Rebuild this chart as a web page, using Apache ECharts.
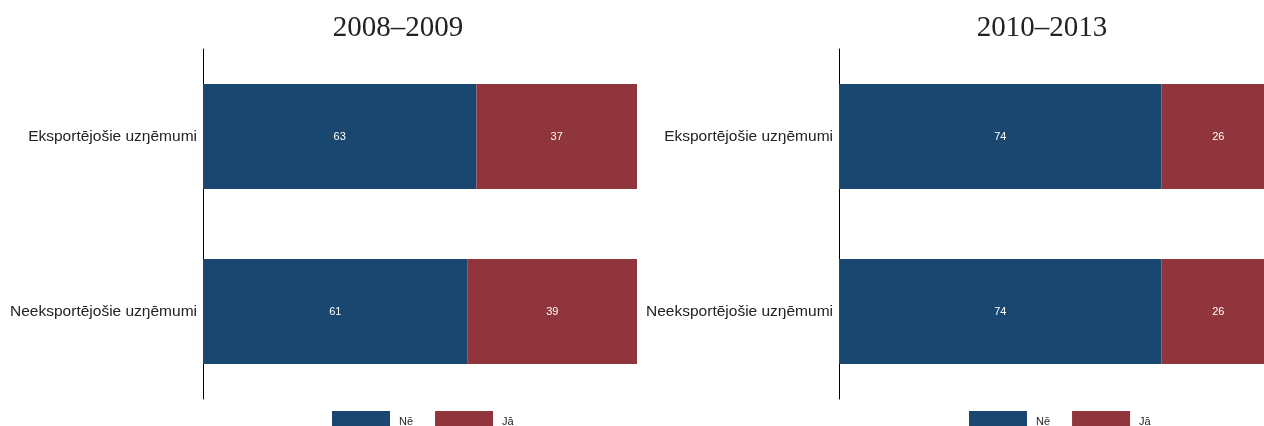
<!DOCTYPE html>
<html>
<head>
<meta charset="utf-8">
<script src="https://cdn.jsdelivr.net/npm/echarts@6/dist/echarts.min.js"></script>
<style>html,body{margin:0;padding:0;background:#fff;overflow:hidden}#c{width:1276px;height:426px}</style>
</head>
<body>
<div id="c"></div>
<script>
const categories = ['Eksportējošie uzŋēmumi', 'Neeksportējošie uzŋēmumi'];
const panelTitles = ['2008–2009', '2010–2013'];
const seriesNames = ['Nē', 'Jā'];
const left_ne = [63, 61];
const left_ja = [37, 39];
const right_ne = [74, 74];
const right_ja = [26, 26];

const NAVY = '#1a476f', MAROON = '#90353b';
const chart = echarts.init(document.getElementById('c'));
const labelStyle = {show: true, position: 'inside', color: '#fff', fontSize: 11, fontFamily: 'Liberation Sans, Arial'};
function bar(name, data, idx, color) {
  return {type: 'bar', name: name, stack: 's' + idx, data: data, xAxisIndex: idx, yAxisIndex: idx,
    barCategoryGap: '40%', itemStyle: {color: color}, label: labelStyle, emphasis: {disabled: true}, silent: true};
}
function yAx(idx) {
  return {type: 'category', gridIndex: idx, data: categories, inverse: true,
    axisLine: {show: true, lineStyle: {color: '#000', width: 1}}, axisTick: {show: false},
    axisLabel: {color: '#222', fontSize: 15.5, fontFamily: 'Liberation Sans, Arial', margin: 6}};
}
function xAx(idx) {
  return {type: 'value', gridIndex: idx, min: 0, max: 100, show: false, splitLine: {show: false}};
}
const legendCommon = {itemWidth: 58, itemHeight: 22, itemGap: 22, icon: 'rect', top: 406,
  textStyle: {fontSize: 11, color: '#222', fontFamily: 'Liberation Sans, Arial', padding: [0, 0, 0, 4]},
  data: seriesNames, selectedMode: false};
chart.setOption({
  animation: false,
  title: [
    {text: panelTitles[0], left: 393, top: 9, textAlign: 'center',
      textStyle: {fontFamily: 'Liberation Serif, Times New Roman', fontSize: 29, fontWeight: 'normal', color: '#222'}},
    {text: panelTitles[1], left: 1037, top: 9, textAlign: 'center',
      textStyle: {fontFamily: 'Liberation Serif, Times New Roman', fontSize: 29, fontWeight: 'normal', color: '#222'}}
  ],
  legend: [
    Object.assign({left: 327}, legendCommon),
    Object.assign({left: 964}, legendCommon)
  ],
  grid: [
    {left: 203, top: 49, width: 434, height: 350},
    {left: 839, top: 49, width: 436, height: 350}
  ],
  xAxis: [xAx(0), xAx(1)],
  yAxis: [yAx(0), yAx(1)],
  series: [
    bar(seriesNames[0], left_ne, 0, NAVY),
    bar(seriesNames[1], left_ja, 0, MAROON),
    bar(seriesNames[0], right_ne, 1, NAVY),
    bar(seriesNames[1], right_ja, 1, MAROON)
  ]
});
</script>
</body>
</html>
